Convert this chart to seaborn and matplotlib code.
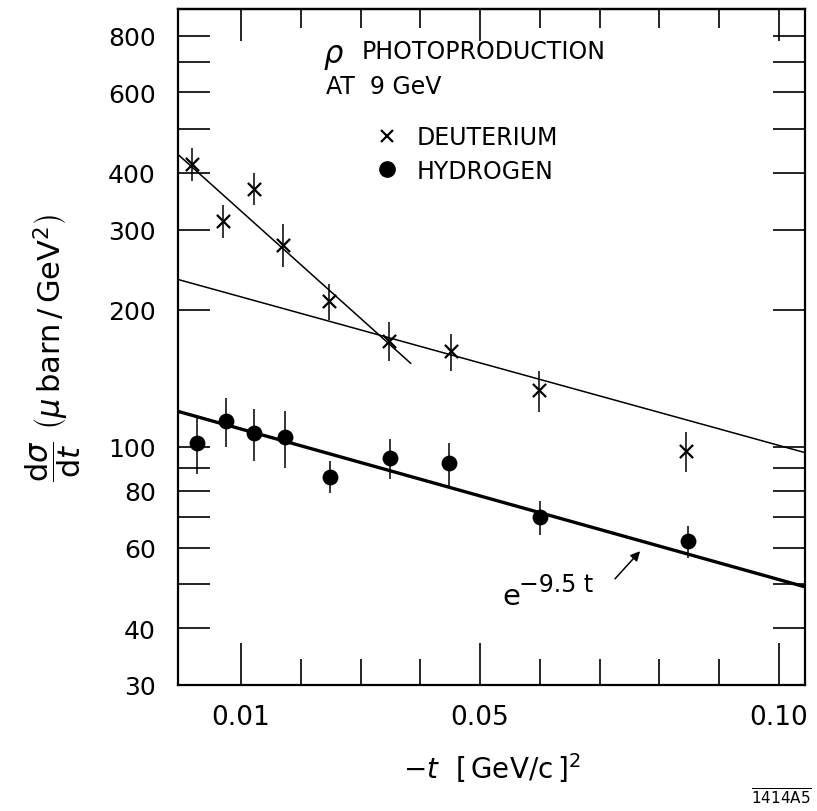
import numpy as np
import pandas as pd
import matplotlib
matplotlib.use("Agg")
import matplotlib.pyplot as plt
import seaborn as sns
from matplotlib.ticker import FixedLocator, FixedFormatter, NullFormatter
from matplotlib.lines import Line2D

# ---------------- data ----------------
d_t = [0.0018, 0.0070, 0.0122, 0.0170, 0.0247, 0.0347, 0.0451, 0.0598, 0.0845]
d_y = [418, 314, 369, 278, 209, 171, 162, 133, 98]
d_err = [34, 26, 30, 30, 19, 17, 15, 14, 10]

h_t = [0.0026, 0.0075, 0.0122, 0.0174, 0.0249, 0.0349, 0.0448, 0.0600, 0.0848]
h_y = [102, 114, 107, 105, 86, 94.5, 92, 70, 62]
h_err = [15, 14, 14, 15, 7, 9.5, 10, 6, 5]

# straight (exponential) fit lines: end points
d_steep_t = [-0.0005, 0.0384]
d_steep_y = [438, 152.5]
d_flat_t = [-0.0005, 0.1045]
d_flat_y = [233, 97]
h_fit_t = [-0.0005, 0.1045]
h_fit_y = [119.6, 49.2]

x_major = [0.01, 0.05, 0.10]
x_major_labels = ["0.01", "0.05", "0.10"]
x_minor = [0.02, 0.03, 0.04, 0.06, 0.07, 0.08, 0.09]
y_major = [30, 40, 60, 80, 100, 200, 300, 400, 600, 800]
y_major_labels = ["30", "40", "60", "80", "100", "200", "300", "400", "600", "800"]
y_minor = [50, 70, 90, 500, 700]

# ---------------- figure ----------------
sns.set_style("ticks")
plt.rcParams["font.family"] = ["DejaVu Sans"]
plt.rcParams["mathtext.fontset"] = "dejavusans"
for key in ["text.color", "axes.labelcolor", "xtick.color", "ytick.color",
            "axes.edgecolor"]:
    plt.rcParams[key] = "black"

fig = plt.figure(figsize=(8.17, 8.12), dpi=100)
ax = fig.add_axes([0.2179, 0.1552, 0.7674, 0.8325])
ax.set_yscale("log")

dfD = pd.DataFrame({"t": d_t, "y": d_y, "err": d_err})
dfH = pd.DataFrame({"t": h_t, "y": h_y, "err": h_err})

# fit lines
ax.plot(d_steep_t, d_steep_y, color="black", lw=1.1, zorder=2)
ax.plot(d_flat_t, d_flat_y, color="black", lw=1.1, zorder=2)
ax.plot(h_fit_t, h_fit_y, color="black", lw=2.4, zorder=2)

# error bars
ax.errorbar(dfD["t"], dfD["y"], yerr=dfD["err"], fmt="none", ecolor="black",
            elinewidth=1.1, capsize=0, zorder=3)
ax.errorbar(dfH["t"], dfH["y"], yerr=dfH["err"], fmt="none", ecolor="black",
            elinewidth=1.1, capsize=0, zorder=3)

# points
sns.scatterplot(data=dfD, x="t", y="y", marker="x", color="black", s=90,
                linewidth=1.6, ax=ax, zorder=4, legend=False)
sns.scatterplot(data=dfH, x="t", y="y", marker="o", color="black", s=130,
                edgecolor="black", linewidth=0, ax=ax, zorder=4, legend=False)

ax.set_xlim(-0.00054, 0.10435)
ax.set_ylim(30, 915)

# ticks
ax.xaxis.set_major_locator(FixedLocator(x_major))
ax.xaxis.set_major_formatter(FixedFormatter(x_major_labels))
ax.xaxis.set_minor_locator(FixedLocator(x_minor))
ax.xaxis.set_minor_formatter(NullFormatter())
ax.yaxis.set_major_locator(FixedLocator(y_major))
ax.yaxis.set_major_formatter(FixedFormatter(y_major_labels))
ax.yaxis.set_minor_locator(FixedLocator(y_minor))
ax.yaxis.set_minor_formatter(NullFormatter())

ax.tick_params(axis="x", which="major", direction="in", length=30, width=1.2,
               labelsize=19, pad=14, top=False, bottom=True, colors="black")
ax.tick_params(axis="x", which="minor", direction="in", length=19, width=1.2,
               top=False, bottom=True, colors="black")
ax.tick_params(axis="y", which="both", direction="in", length=23, width=1.2,
               labelsize=18, pad=16, left=True, right=True, colors="black")

secx = ax.secondary_xaxis("top")
secx.xaxis.set_major_locator(FixedLocator(x_major))
secx.xaxis.set_minor_locator(FixedLocator(x_minor))
secx.tick_params(axis="x", which="major", direction="in", length=23, width=1.2,
                 labeltop=False, colors="black")
secx.tick_params(axis="x", which="minor", direction="in", length=14, width=1.2,
                 labeltop=False, colors="black")
secx.xaxis.set_major_formatter(NullFormatter())
secx.xaxis.set_minor_formatter(NullFormatter())
for sp in secx.spines.values():
    sp.set_linewidth(1.6)
    sp.set_color("black")

for sp in ax.spines.values():
    sp.set_visible(True)
    sp.set_linewidth(1.6)
    sp.set_color("black")

# labels
ax.set_xlabel(r"$-t\ \ \left[\,\mathrm{GeV/c}\,\right]^{2}$", fontsize=20,
              labelpad=14, color="black")
ax.set_ylabel(r"$\dfrac{\mathrm{d}\sigma}{\mathrm{d}t}\ \left(\mu\,\mathrm{barn\,/\,GeV}^{2}\right)$",
              fontsize=22, labelpad=18, color="black")

# title block
ax.text(0.231, 0.929, r"$\rho$", transform=ax.transAxes, fontsize=22,
        ha="left", va="center")
ax.text(0.293, 0.938, "PHOTOPRODUCTION", transform=ax.transAxes, fontsize=17,
        ha="left", va="center")
ax.text(0.236, 0.886, "AT  9 GeV", transform=ax.transAxes, fontsize=17,
        ha="left", va="center")

# legend
handles = [
    Line2D([], [], marker="x", color="black", linestyle="none", markersize=9,
           markeredgewidth=1.6),
    Line2D([], [], marker="o", color="black", linestyle="none", markersize=11),
]
leg = ax.legend(handles, ["DEUTERIUM", "HYDROGEN"], loc="center left",
                bbox_to_anchor=(0.314, 0.7855), frameon=False, fontsize=17,
                handlelength=1.0, handletextpad=0.78, labelspacing=0.4,
                borderpad=0, borderaxespad=0)
for txt in leg.get_texts():
    txt.set_color("black")

# e^{-9.5t} annotation
ax.text(0.518, 0.132, "e", transform=ax.transAxes, fontsize=21,
        ha="left", va="center")
ax.text(0.544, 0.150, "\u22129.5 t", transform=ax.transAxes, fontsize=17,
        ha="left", va="center")
ax.annotate("", xy=(0.740, 0.201), xytext=(0.694, 0.154),
            xycoords="axes fraction", textcoords="axes fraction",
            arrowprops=dict(arrowstyle="-|>", color="black", lw=1.1,
                            mutation_scale=14))

fig.text(0.956, 0.017, r"$\overline{\mathrm{1414A5}}$", fontsize=11,
         ha="center", va="center")

fig.savefig("out.png", dpi=100)
